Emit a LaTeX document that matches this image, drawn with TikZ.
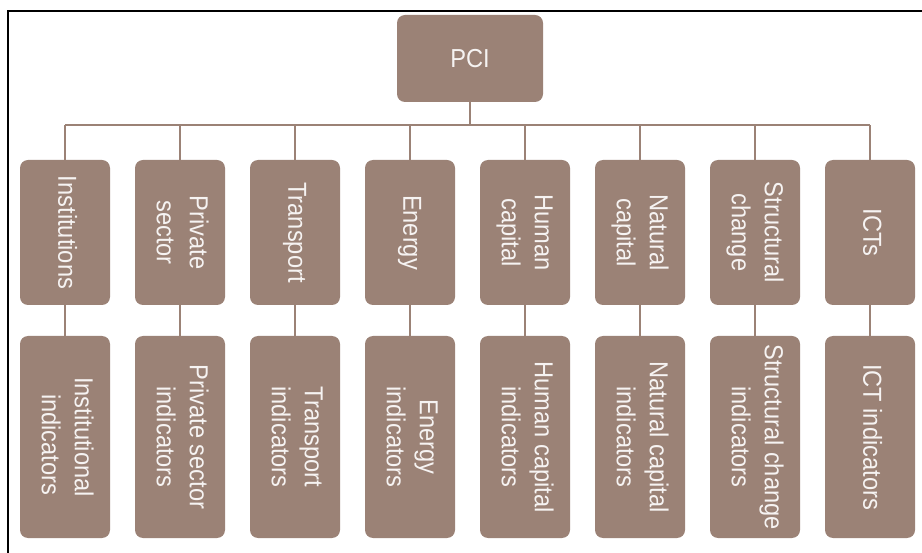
\documentclass[tikz,border=0pt]{standalone}
\usepackage{fontspec}
\setmainfont{Liberation Sans}
\usepackage{graphicx}
\definecolor{boxc}{RGB}{155,130,118}
\definecolor{txtc}{RGB}{246,243,242}
\newcommand{\vtext}[1]{\rotatebox{-90}{\scalebox{0.91}[1]{\begin{tabular}{@{}c@{}}#1\end{tabular}}}}
\begin{document}
\begin{tikzpicture}[x=1pt,y=-1pt,
  box/.style={draw=none,fill=boxc,rounded corners=8pt,inner sep=0pt,
    text=txtc,font=\fontsize{26}{33}\selectfont},
  topbox/.style={box,minimum width=90pt,minimum height=145pt},
  botbox/.style={box,minimum width=90pt,minimum height=202pt},
  conn/.style={draw=boxc,line width=2.8pt},
  frame/.style={draw=black,line width=2pt}]
\useasboundingbox (0,0) rectangle (922,553);
\coordinate (fbl) at (8,553);
\coordinate (ftl) at (8,11);
\coordinate (ftr) at (922,11);
\draw[frame] (fbl) -- (ftl) -- (ftr);
\coordinate (busL) at (65,125);
\coordinate (busR) at (870,125);
\draw[conn] (busL) -- (busR);
\node[box,minimum width=146pt,minimum height=87pt] (pci) at (470,58.5) {\scalebox{0.91}[1]{PCI}};
\draw[conn] (pci.south) -- (pci.south |- busL);
\foreach \i/\a/\b in {0/Institutions/Institutional\\\hspace{17pt}indicators,
  1/Private\\sector/Private sector\\indicators,
  2/Transport/Transport\\indicators,
  3/Energy/Energy\\indicators,
  4/Human\\capital/Human capital\\indicators,
  5/Natural\\capital/Natural capital\\indicators,
  6/Structural\\change/Structural change\\indicators,
  7/ICTs/ICT indicators}{
  \node[topbox] (t\i) at (65+115*\i,232.5) {\vtext{\a}};
  \node[botbox] (b\i) at (65+115*\i,437) {\vtext{\b}};
  \draw[conn] (t\i.north) -- (t\i.north |- busL);
  \draw[conn] (t\i.south) -- (b\i.north);
}
\end{tikzpicture}
\end{document}
